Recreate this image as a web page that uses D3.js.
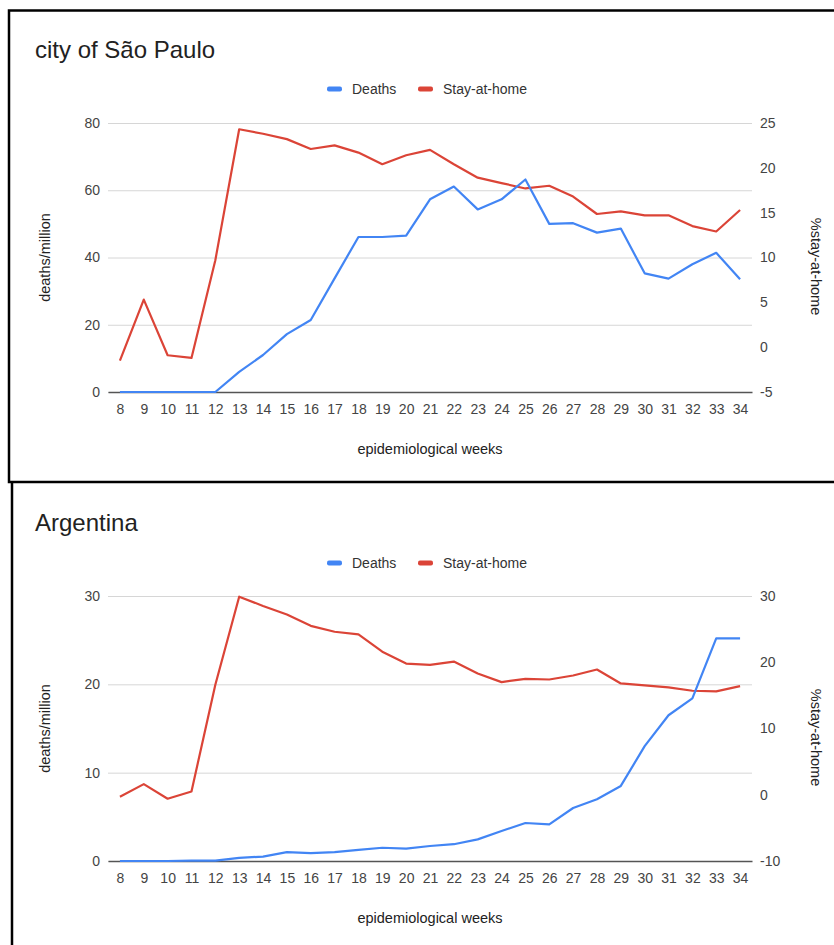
<!DOCTYPE html>
<html>
<head>
<meta charset="utf-8">
<title>Deaths and stay-at-home</title>
<script src="https://cdn.jsdelivr.net/npm/d3@7"></script>
<style>
  body { margin: 0; background: #fff; }
  text { font-family: "Liberation Sans", Arial, sans-serif; }
</style>
</head>
<body>
<div id="chart"></div>
<script>
// epidemiological weeks 8..34
var weeks = [8, 9, 10, 11, 12, 13, 14, 15, 16, 17, 18, 19, 20, 21, 22, 23, 24, 25, 26, 27, 28, 29, 30, 31, 32, 33, 34];

// city of Sao Paulo
var spDeaths = [0, 0, 0, 0, 0, 6.0, 11.0, 17.2, 21.4, 33.8, 46.1, 46.1, 46.5, 57.3, 61.1, 54.3, 57.3, 63.2, 50.0, 50.2, 47.4, 48.6, 35.3, 33.7, 38.0, 41.4, 33.5];
var spStay = [-1.5, 5.3, -0.9, -1.2, 9.7, 24.3, 23.8, 23.2, 22.1, 22.5, 21.7, 20.4, 21.4, 22.0, 20.4, 18.9, 18.3, 17.7, 18.0, 16.8, 14.85, 15.15, 14.7, 14.7, 13.5, 12.9, 15.3];
var spLeftTicks = [0, 20, 40, 60, 80];
var spRightTicks = [-5, 0, 5, 10, 15, 20, 25];

// Argentina
var arDeaths = [0, 0, 0, 0.05, 0.05, 0.35, 0.5, 1.0, 0.9, 1.0, 1.25, 1.5, 1.4, 1.7, 1.9, 2.45, 3.4, 4.3, 4.15, 6.0, 7.0, 8.5, 13.0, 16.5, 18.4, 25.2, 25.2];
var arStay = [-0.3, 1.6, -0.6, 0.5, 16.6, 29.9, 28.5, 27.2, 25.5, 24.6, 24.2, 21.6, 19.8, 19.6, 20.1, 18.3, 17.0, 17.5, 17.4, 18.0, 18.9, 16.8, 16.5, 16.2, 15.7, 15.6, 16.4];
var arLeftTicks = [0, 10, 20, 30];
var arRightTicks = [-10, 0, 10, 20, 30];

var seriesNames = ["Deaths", "Stay-at-home"];
var blue = "#4285f4", red = "#db4437";

var svg = d3.select("#chart").append("svg")
  .attr("width", 834)
  .attr("height", 945);

// panel frames
var frame = svg.append("g").attr("fill", "none").attr("stroke", "#000").attr("stroke-width", 2.5);
frame.append("path").attr("d", "M834,10.5H9V482H834");
frame.append("path").attr("d", "M12,482V945");

// plain hyphen for negatives, like the original
var fmt = function(d) { return String(d); };

function drawChart(o) {
  var g = svg.append("g");

  var x = d3.scalePoint().domain(weeks).range([108, 752]).padding(0.5);
  var yL = d3.scaleLinear().domain(d3.extent(o.leftTicks)).range([o.bottom, o.top]);
  var yR = d3.scaleLinear().domain(d3.extent(o.rightTicks)).range([o.bottom, o.top]);

  g.append("text")
    .attr("x", 35).attr("y", o.titleY)
    .attr("font-size", 24).attr("fill", "#222")
    .text(o.title);

  // legend
  var leg = g.append("g").attr("transform", "translate(0," + o.legendY + ")");
  var legX = [327, 418];
  var legC = [blue, red];
  seriesNames.forEach(function(n, i) {
    leg.append("rect").attr("x", legX[i]).attr("y", -2.5).attr("width", 15).attr("height", 5)
      .attr("rx", 2).attr("fill", legC[i]);
    leg.append("text").attr("x", legX[i] + 25).attr("y", 5)
      .attr("font-size", 14).attr("fill", "#333").text(n);
  });

  // left axis + gridlines
  var ax = g.append("g").attr("transform", "translate(108,0)")
    .call(d3.axisLeft(yL).tickValues(o.leftTicks).tickFormat(fmt).tickSize(-644).tickPadding(8));
  ax.select(".domain").remove();
  ax.selectAll("line").attr("stroke", "#d6d6d6").attr("stroke-width", 1);
  ax.selectAll("text").attr("font-size", 14).attr("fill", "#444").attr("font-family", null);

  var axr = g.append("g").attr("transform", "translate(752,0)")
    .call(d3.axisRight(yR).tickValues(o.rightTicks).tickFormat(fmt).tickSize(0).tickPadding(8));
  axr.select(".domain").remove();
  axr.selectAll("text").attr("font-size", 14).attr("fill", "#444").attr("font-family", null);

  var axb = g.append("g").attr("transform", "translate(0," + o.bottom + ")")
    .call(d3.axisBottom(x).tickSize(0).tickPadding(12));
  axb.select(".domain").attr("stroke", "#555").attr("stroke-width", 1.3);
  axb.selectAll("text").attr("font-size", 14).attr("fill", "#444").attr("font-family", null);

  // axis titles
  var mid = (o.top + o.bottom) / 2;
  g.append("text").attr("x", 430).attr("y", o.bottom + 62)
    .attr("text-anchor", "middle").attr("font-size", 14.5).attr("fill", "#222")
    .text("epidemiological weeks");
  g.append("text").attr("transform", "translate(50," + mid + ") rotate(-90)")
    .attr("text-anchor", "middle").attr("font-size", 14.5).attr("fill", "#222")
    .text("deaths/million");
  g.append("text").attr("transform", "translate(811," + (mid + 9) + ") rotate(90)")
    .attr("text-anchor", "middle").attr("font-size", 14.5).attr("fill", "#222")
    .text("%stay-at-home");

  // lines
  var lineL = d3.line().x(function(d, i) { return x(weeks[i]); }).y(function(d) { return yL(d); });
  var lineR = d3.line().x(function(d, i) { return x(weeks[i]); }).y(function(d) { return yR(d); });
  g.append("path").datum(o.stay).attr("d", lineR)
    .attr("fill", "none").attr("stroke", red).attr("stroke-width", 2.2).attr("stroke-linejoin", "round");
  g.append("path").datum(o.deaths).attr("d", lineL)
    .attr("fill", "none").attr("stroke", blue).attr("stroke-width", 2.2).attr("stroke-linejoin", "round");
}

drawChart({
  title: "city of São Paulo", titleY: 58, legendY: 89,
  top: 123, bottom: 392,
  leftTicks: spLeftTicks, rightTicks: spRightTicks,
  deaths: spDeaths, stay: spStay
});

drawChart({
  title: "Argentina", titleY: 531, legendY: 563,
  top: 596, bottom: 861,
  leftTicks: arLeftTicks, rightTicks: arRightTicks,
  deaths: arDeaths, stay: arStay
});
</script>
</body>
</html>
